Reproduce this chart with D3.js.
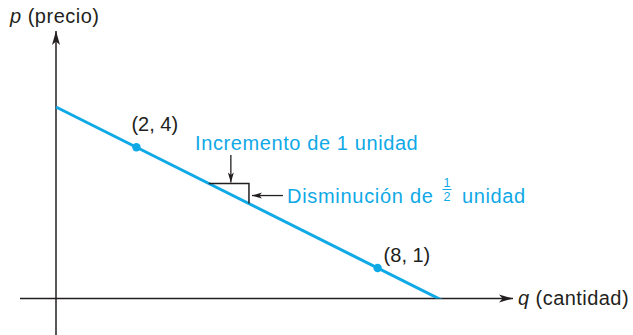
<!DOCTYPE html>
<meta charset="utf-8">
<style>
body { margin: 0; background: #fff; }
text { font-family: "Liberation Sans", Arial, sans-serif; }
</style>
<body>
<svg width="633" height="335"></svg>
<script src="https://d3js.org/d3.v7.min.js"></script>
<script>

// recta de demanda p = 5 - q/2
var lineaQ = [0, 10];
var lineaP = [5, 0];

// puntos marcados
var puntosQ = [2, 8];
var puntosP = [4, 1];
var puntosTexto = ["(2, 4)", "(8, 1)"];

// triangulo de pendiente: sube 1 en q, baja 1/2 en p
var trianguloQ = [3.8, 4.8];
var trianguloP = [3.1, 2.6];

var azul = "#0fa9e6",
    negro = "#231f20";

var svg = d3.select("svg"),
    ejeY = 298.5;   // donde se dibuja el eje q

var x = d3.scaleLinear().domain([0, 10]).range([56, 458]);
var y = d3.scaleLinear().domain([0, 5]).range([308.25, 107]);

var defs = svg.append("defs");

function flecha(id, largo, ancho) {
  defs.append("marker")
      .attr("id", id)
      .attr("viewBox", (-largo) + " " + (-ancho) + " " + (largo + 1) + " " + (ancho * 2))
      .attr("refX", 0)
      .attr("refY", 0)
      .attr("markerUnits", "userSpaceOnUse")
      .attr("markerWidth", largo + 1)
      .attr("markerHeight", ancho * 2)
      .attr("orient", "auto")
    .append("path")
      .attr("d", "M0,0L" + (-largo) + "," + (-ancho / 2) + "L" + (-largo * 0.75) + ",0L" + (-largo) + "," + (ancho / 2) + "Z")
      .attr("fill", negro);
}
flecha("grande", 14, 8);
flecha("chica", 10, 6);

defs.append("clipPath").attr("id", "arriba")
  .append("rect")
    .attr("x", 0).attr("y", 0)
    .attr("width", 633).attr("height", ejeY);

// ejes
svg.append("line")
    .attr("x1", x(0)).attr("x2", x(0))
    .attr("y1", 335).attr("y2", 31)
    .attr("stroke", negro).attr("stroke-width", 1.5)
    .attr("marker-end", "url(#grande)");

svg.append("line")
    .attr("x1", 20).attr("x2", 513)
    .attr("y1", ejeY).attr("y2", ejeY)
    .attr("stroke", negro).attr("stroke-width", 1.5)
    .attr("marker-end", "url(#grande)");

svg.append("text")
    .attr("x", 10).attr("y", 23)
    .attr("font-size", 20).attr("letter-spacing", 0.5).attr("fill", negro)
    .html('<tspan font-style="italic">p</tspan> (precio)');

svg.append("text")
    .attr("x", 518).attr("y", 305)
    .attr("font-size", 20).attr("letter-spacing", 0.45).attr("fill", negro)
    .html('<tspan font-style="italic">q</tspan> (cantidad)');

// recta
var linea = d3.line()
    .x(function(d) { return x(d[0]); })
    .y(function(d) { return y(d[1]); });

svg.append("path")
    .datum(d3.zip(lineaQ, lineaP))
    .attr("clip-path", "url(#arriba)")
    .attr("d", linea)
    .attr("fill", "none")
    .attr("stroke", azul)
    .attr("stroke-width", 3);

// triangulo
var tri = [[trianguloQ[0], trianguloP[0]], [trianguloQ[1], trianguloP[0]], [trianguloQ[1], trianguloP[1]]];
svg.append("path")
    .attr("d", linea(tri))
    .attr("fill", "none")
    .attr("stroke", negro)
    .attr("stroke-width", 1.5);

// puntos
var puntos = d3.zip(puntosQ, puntosP, puntosTexto);
svg.selectAll("circle.pt")
  .data(puntos)
  .enter().append("circle")
    .attr("class", "pt")
    .attr("cx", function(d) { return x(d[0]); })
    .attr("cy", function(d) { return y(d[1]); })
    .attr("r", 4.2)
    .attr("fill", azul);

var desp = [[-5, -16], [6, -6.5]];
svg.selectAll("text.pt")
  .data(puntos)
  .enter().append("text")
    .attr("class", "pt")
    .attr("x", function(d, i) { return x(d[0]) + desp[i][0]; })
    .attr("y", function(d, i) { return y(d[1]) + desp[i][1]; })
    .attr("font-size", 20)
    .attr("fill", negro)
    .text(function(d) { return d[2]; });

// anotaciones
var medioX = (x(trianguloQ[0]) + x(trianguloQ[1])) / 2,
    arribaY = y(trianguloP[0]),
    ladoX = x(trianguloQ[1]),
    ladoY = (y(trianguloP[0]) + y(trianguloP[1])) / 2;

svg.append("line")
    .attr("x1", medioX + 2).attr("x2", medioX + 2)
    .attr("y1", 155).attr("y2", arribaY - 1)
    .attr("stroke", negro).attr("stroke-width", 1.3)
    .attr("marker-end", "url(#chica)");

svg.append("text")
    .attr("x", 195).attr("y", 150)
    .attr("font-size", 20).attr("letter-spacing", 0.6).attr("fill", azul)
    .text("Incremento de 1 unidad");

svg.append("line")
    .attr("x1", ladoX + 34).attr("x2", ladoX + 3)
    .attr("y1", ladoY + 2).attr("y2", ladoY + 2)
    .attr("stroke", negro).attr("stroke-width", 1.3)
    .attr("marker-end", "url(#chica)");

var dis = svg.append("g").attr("fill", azul);
dis.append("text")
    .attr("x", 287).attr("y", 203)
    .attr("font-size", 20).attr("letter-spacing", 0.7)
    .text("Disminución de");
dis.append("text")
    .attr("x", 447).attr("y", 187)
    .attr("font-size", 12.5).attr("text-anchor", "middle")
    .text("1");
dis.append("line")
    .attr("x1", 442.5).attr("x2", 451.5)
    .attr("y1", 189.5).attr("y2", 189.5)
    .attr("stroke", azul).attr("stroke-width", 1);
dis.append("text")
    .attr("x", 447).attr("y", 201)
    .attr("font-size", 12.5).attr("text-anchor", "middle")
    .text("2");
dis.append("text")
    .attr("x", 462).attr("y", 203)
    .attr("font-size", 20).attr("letter-spacing", 0.6)
    .text("unidad");

</script>
</body>
